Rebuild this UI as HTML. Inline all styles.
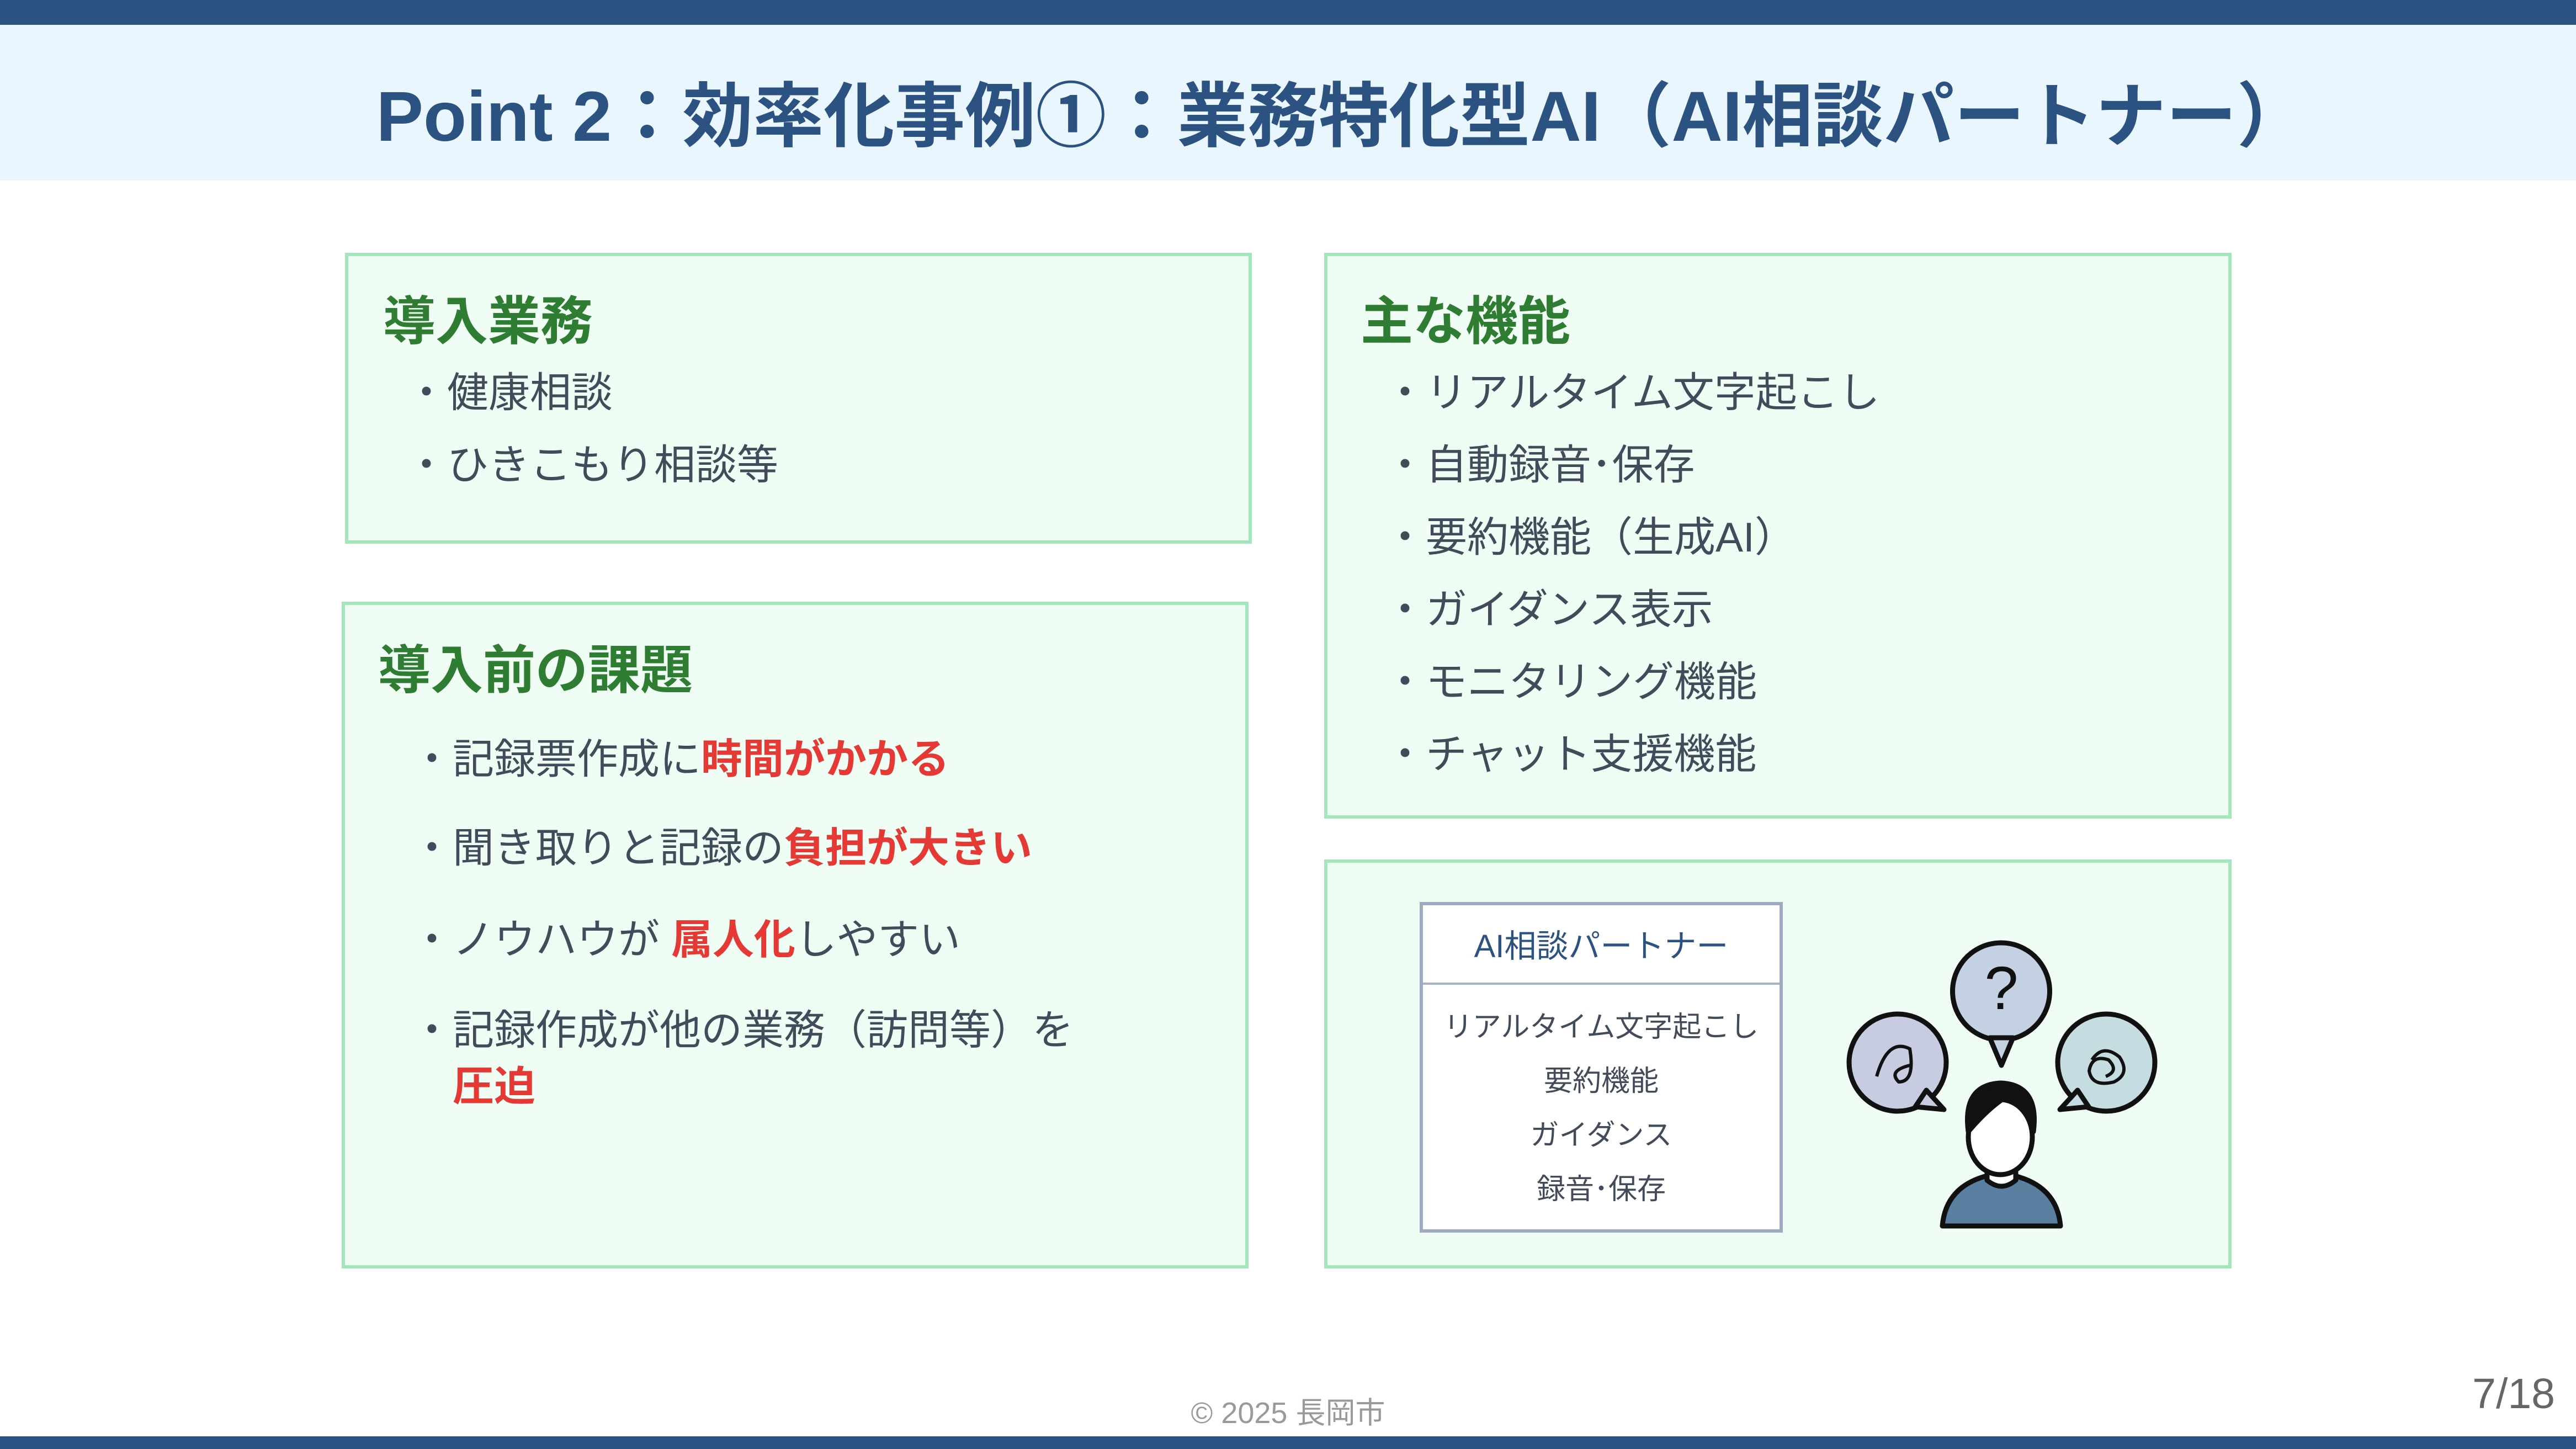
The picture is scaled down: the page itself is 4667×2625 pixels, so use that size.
<!DOCTYPE html>
<html><head><meta charset="utf-8"><style>
*{margin:0;padding:0;box-sizing:border-box}
body{width:4667px;height:2625px;position:relative;background:#fff;overflow:hidden;font-family:"Liberation Sans","Noto Sans CJK JP",sans-serif}
.a{position:absolute;white-space:nowrap}
.box{position:absolute;background:#f0fdf4;border:6px solid #a3e6bb}
.h{color:#2e7d32;font-weight:bold;font-size:95px;line-height:110px}
.t{color:#424b5a;font-size:75px;line-height:100px}
.r{color:#e53935;font-weight:bold}
.s{color:#424b5a;font-size:52px;line-height:70px;text-align:center;width:646px}
</style></head><body>
<div class="a" style="left:0;top:0;width:4667px;height:45px;background:#2c5282"></div>
<div class="a" style="left:0;top:45px;width:4667px;height:282px;background:#eaf6fd"></div>
<div class="a" style="left:0;top:132px;width:4667px;text-align:center;font-size:128px;line-height:160px;color:#2c5282;font-weight:bold;padding-left:195px">Point 2：効率化事例①：業務特化型AI（AI相談パートナー）</div>

<div class="box" style="left:625px;top:458px;width:1643px;height:527px"></div>
<div class="a h" style="left:694px;top:528px">導入業務</div>
<div class="a t" style="left:735px;top:661px">・健康相談</div>
<div class="a t" style="left:735px;top:792px">・ひきこもり相談等</div>

<div class="box" style="left:619px;top:1090px;width:1643px;height:1208px"></div>
<div class="a h" style="left:685px;top:1160px">導入前の課題</div>
<div class="a t" style="left:745px;top:1325px">・記録票作成に<span class="r">時間がかかる</span></div>
<div class="a t" style="left:745px;top:1486px">・聞き取りと記録の<span class="r">負担が大きい</span></div>
<div class="a t" style="left:745px;top:1652px">・ノウハウが <span class="r">属人化</span>しやすい</div>
<div class="a t" style="left:745px;top:1816px">・記録作成が他の業務（訪問等）を</div>
<div class="a t" style="left:820px;top:1918px"><span class="r">圧迫</span></div>

<div class="box" style="left:2399px;top:458px;width:1644px;height:1025px"></div>
<div class="a h" style="left:2465px;top:528px">主な機能</div>
<div class="a t" style="left:2508px;top:661px">・リアルタイム文字起こし</div>
<div class="a t" style="left:2508px;top:792px">・自動録音･保存</div>
<div class="a t" style="left:2508px;top:923px">・要約機能（生成AI）</div>
<div class="a t" style="left:2508px;top:1054px">・ガイダンス表示</div>
<div class="a t" style="left:2508px;top:1185px">・モニタリング機能</div>
<div class="a t" style="left:2508px;top:1316px">・チャット支援機能</div>

<div class="box" style="left:2399px;top:1557px;width:1644px;height:741px"></div>
<div class="a" style="left:2572px;top:1634px;width:658px;height:599px;background:#fff;border:6px solid #9eaac0"></div>
<div class="a" style="left:2578px;top:1780px;width:646px;height:4px;background:#a8b3c6"></div>
<div class="a" style="left:2578px;top:1675px;width:646px;text-align:center;font-size:58px;line-height:80px;color:#2c5282">AI相談パートナー</div>
<div class="a s" style="left:2578px;top:1826px">リアルタイム文字起こし</div>
<div class="a s" style="left:2578px;top:1924px">要約機能</div>
<div class="a s" style="left:2578px;top:2022px">ガイダンス</div>
<div class="a s" style="left:2578px;top:2120px">録音･保存</div>

<svg class="a" style="left:0;top:0" width="4667" height="2625">
<g stroke="#111" stroke-width="9" stroke-linejoin="round">
<path d="M3626,1708 a88,88 0 1,1 -1,0 z" fill="#c3d1e2"/>
<path d="M3605,1880 L3626,1930 L3647,1880 z" fill="#c3d1e2"/>
<circle cx="3438" cy="1925" r="88" fill="#c8cce0"/>
<path d="M3490,1975 L3522,2010 L3470,2005 z" fill="#c8cce0"/>
<circle cx="3816" cy="1925" r="88" fill="#c5dde0"/>
<path d="M3764,1975 L3732,2010 L3784,2005 z" fill="#c5dde0"/>
<path d="M3519,2221 Q3525,2150 3600,2130 L3650,2130 Q3727,2150 3733,2221 z" fill="#5b7fa0"/>
<path d="M3600,2090 L3600,2138 Q3626,2160 3652,2138 L3652,2090 z" fill="#fff"/>
<ellipse cx="3624" cy="2060" rx="58" ry="68" fill="#fff"/>
<path d="M3566,2050 Q3555,1965 3625,1962 Q3695,1965 3684,2050 Q3670,2000 3630,1990 Q3600,2010 3566,2050 z" fill="#111"/>
</g>
<text x="3626" y="1828" font-size="110" text-anchor="middle" font-family="Liberation Sans" fill="#111">?</text>
<path d="M3400,1950 Q3420,1880 3460,1900 Q3470,1960 3440,1960 Q3420,1940 3460,1930" stroke="#111" stroke-width="6" fill="none"/>
<path d="M3790,1920 q20,-30 50,-5 q20,30 -10,45 q-40,10 -45,-20 q5,-30 35,-20 q20,20 -5,30" stroke="#111" stroke-width="6" fill="none"/>
</svg>

<div class="a" style="left:0;top:2525px;width:4667px;text-align:center;font-size:54px;line-height:70px;color:#9a9a9a">© 2025 長岡市</div>
<div class="a" style="right:38px;top:2480px;font-size:77px;line-height:90px;color:#666">7/18</div>
<div class="a" style="left:0;top:2602px;width:4667px;height:23px;background:#2c5282"></div>
</body></html>
